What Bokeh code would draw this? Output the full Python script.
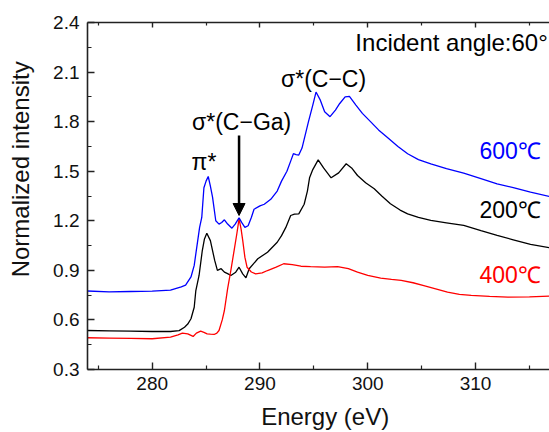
import numpy as np
from bokeh.plotting import figure
from bokeh.models import (LinearAxis, FixedTicker, Label, Arrow, NormalHead, Range1d)
from bokeh.embed import file_html
from bokeh.resources import INLINE

# ---------------- data ----------------
e_600 = [274, 276, 278, 280, 281.7, 282.7, 283.1, 283.6, 283.9, 284.05, 284.4, 284.6, 284.8, 285.0,
         285.2, 285.4, 285.6, 285.9, 286.2, 286.45, 286.7, 287.0, 287.4, 287.7, 288.06, 288.3, 288.6,
         288.9, 289.2, 289.45, 290.0, 290.4, 291.0, 291.6, 292.0, 292.5, 292.9, 293.1, 293.35, 293.6,
         293.9, 294.2, 294.5, 294.9, 295.2, 295.6, 296.0, 296.5, 297.0, 297.4, 297.9, 298.3, 298.9,
         299.5, 300.3, 301.0, 301.8, 302.8, 303.7, 304.7, 305.85, 307.3, 308.9, 310.5, 312.0, 313.5,
         315.1, 317.0]
i_600 = [0.775, 0.770, 0.772, 0.774, 0.78, 0.80, 0.81, 0.86, 0.93, 1.00, 1.16, 1.22, 1.40, 1.44,
         1.468, 1.41, 1.343, 1.20, 1.18, 1.19, 1.206, 1.18, 1.155, 1.18, 1.218, 1.19, 1.16,
         1.17, 1.22, 1.27, 1.29, 1.30, 1.33, 1.38, 1.44, 1.50, 1.57, 1.606, 1.60, 1.598,
         1.64, 1.72, 1.80, 1.90, 1.979, 1.93, 1.86, 1.83, 1.87, 1.91, 1.95, 1.953, 1.90,
         1.85, 1.797, 1.75, 1.706, 1.65, 1.606, 1.57, 1.545, 1.515, 1.488, 1.455, 1.424, 1.40,
         1.373, 1.345]

e_200 = [274, 276, 278, 280, 281.7, 282.5, 283.0, 283.3, 283.6, 283.9, 284.05, 284.35, 284.65, 284.85,
         285.07, 285.4, 285.8, 286.05, 286.4, 286.7, 287.0, 287.3, 287.75, 288.06, 288.4, 288.7,
         289.0, 289.8, 290.7, 291.6, 292.0, 292.4, 292.85, 293.2, 293.6, 294.1, 294.4, 294.6, 294.9,
         295.4, 295.9, 296.6, 297.3, 298.0, 298.5, 299.05, 299.8, 300.6, 301.3, 302.1, 303.0, 303.7,
         304.7, 305.85, 307.3, 308.9, 310.5, 312.0, 313.5, 315.1, 317.0]
i_200 = [0.536, 0.534, 0.532, 0.530, 0.530, 0.535, 0.556, 0.575, 0.607, 0.677, 0.778, 0.869, 1.02, 1.09,
         1.125, 1.08, 0.96, 0.90, 0.91, 0.889, 0.88, 0.869, 0.889, 0.919, 0.879, 0.855,
         0.91, 0.97, 1.01, 1.07, 1.11, 1.16, 1.232, 1.24, 1.242, 1.30, 1.38, 1.46, 1.51,
         1.569, 1.52, 1.46, 1.49, 1.545, 1.52, 1.474, 1.43, 1.394, 1.35, 1.303, 1.265, 1.242,
         1.22, 1.202, 1.188, 1.172, 1.14, 1.111, 1.085, 1.057, 1.035]

e_400 = [274, 276, 278, 280, 281.7, 282.4, 282.8, 283.3, 283.8, 284.1, 284.5, 284.8, 285.1, 285.4,
         285.75, 286.0, 286.2, 286.5, 286.7, 287.0, 287.3, 287.6, 287.85, 288.06, 288.25, 288.4,
         288.6, 288.8, 289.2, 289.6, 290.2, 290.7, 291.5, 292.2, 293.0, 293.8, 294.7, 296.0, 297.2,
         298.2, 299.05, 300.0, 301.2, 302.2, 303.1, 304.2, 305.2, 306.3, 307.4, 308.5, 309.6, 311.3,
         313.0, 315.0, 317.0]
i_400 = [0.492, 0.490, 0.488, 0.486, 0.496, 0.51, 0.52, 0.516, 0.50, 0.52, 0.532, 0.525, 0.516, 0.514,
         0.512, 0.52, 0.536, 0.60, 0.657, 0.79, 0.90, 1.02, 1.12, 1.212, 1.15, 1.081,
         0.98, 0.919, 0.89, 0.879, 0.885, 0.899, 0.92, 0.94, 0.935, 0.925, 0.922, 0.92, 0.923,
         0.91, 0.889, 0.87, 0.853, 0.845, 0.839, 0.825, 0.808, 0.788, 0.768, 0.755, 0.748, 0.742,
         0.738, 0.740, 0.744]

series_names = ["600℃", "200℃", "400℃"]
series_colors = ["#0000ff", "#000000", "#ff0000"]

x_major = [280, 290, 300, 310]
x_minor = [275, 285, 295, 305, 315]
y_major = [0.3, 0.6, 0.9, 1.2, 1.5, 1.8, 2.1, 2.4]
y_minor = [0.45, 0.75, 1.05, 1.35, 1.65, 1.95, 2.25]
y_tick_labels = ["0.3", "0.6", "0.9", "1.2", "1.5", "1.8", "2.1", "2.4"]

x_title = "Energy (eV)"
y_title = "Normalized intensity"

FONT = "Liberation Sans"
NB = "\u00a0"

# ---------------- figure ----------------
p = figure(width=549, height=432, output_backend="svg", toolbar_location=None,
           x_range=Range1d(274, 316.86), y_range=Range1d(0.3, 2.4),
           x_axis_location=None, y_axis_location=None,
           min_border_left=87, min_border_right=0, min_border_top=22, min_border_bottom=63)
p.outline_line_color = None
p.grid.visible = False
p.background_fill_color = "white"
p.border_fill_color = "white"


def style_axis(ax, major_len, minor_len, show_labels=True):
    ax.axis_line_color = "#222222"
    ax.axis_line_width = 1.6
    ax.major_tick_line_color = "#222222"
    ax.minor_tick_line_color = "#222222"
    ax.major_tick_line_width = 1.4
    ax.minor_tick_line_width = 1.2
    ax.major_tick_in = major_len
    ax.major_tick_out = 0
    ax.minor_tick_in = minor_len
    ax.minor_tick_out = 0
    if show_labels:
        ax.major_label_text_font = FONT
        ax.major_label_text_font_size = "19px"
        ax.major_label_text_color = "#111111"
        ax.axis_label_text_font = FONT
        ax.axis_label_text_font_size = "24px"
        ax.axis_label_text_font_style = "normal"
        ax.axis_label_text_color = "#111111"
    else:
        ax.major_label_overrides = {v: "" for v in x_major}
        ax.major_label_text_font_size = "1px"
        ax.major_label_standoff = 0


xb = LinearAxis(ticker=FixedTicker(ticks=x_major, minor_ticks=x_minor))
style_axis(xb, 7, 4)
xb.major_label_standoff = 7
xb.axis_label = NB * 2 + x_title
xb.axis_label_standoff = 10
p.add_layout(xb, "below")

xt = LinearAxis(ticker=FixedTicker(ticks=x_major, minor_ticks=x_minor))
style_axis(xt, 5, 3, show_labels=False)
p.add_layout(xt, "above")

yl = LinearAxis(ticker=FixedTicker(ticks=y_major, minor_ticks=y_minor))
style_axis(yl, 7, 4)
yl.major_label_overrides = {v: s for v, s in zip(y_major, y_tick_labels)}
yl.major_label_standoff = 8
yl.axis_label = NB * 8 + y_title
yl.axis_label_standoff = 16
p.add_layout(yl, "left")

# ---------------- curves ----------------
for e, i, c in [(e_200, i_200, series_colors[1]), (e_400, i_400, series_colors[2]),
                (e_600, i_600, series_colors[0])]:
    p.line(e, i, line_color=c, line_width=1.3)

# ---------------- annotations ----------------
def add_label(x, y, text, color="black", size="23px", align="center"):
    p.add_layout(Label(x=x, y=y, text=text, text_font=FONT, text_font_size=size,
                       text_color=color, text_align=align, text_baseline="middle"))


add_label(316.7, 2.28, "Incident angle:60°", size="24px", align="right")
add_label(316.05, 1.62, series_names[0], color=series_colors[0], align="right")
add_label(316.05, 1.267, series_names[1], color=series_colors[1], align="right")
add_label(316.05, 0.873, series_names[2], color=series_colors[2], align="right")

add_label(284.8, 1.555, "π*")
add_label(288.3, 1.795, "σ*(C−Ga)")
add_label(295.9, 2.06, "σ*(C−C)")

k = int(np.argmax(i_400))
arrow_x = e_400[k]
p.add_layout(Arrow(end=NormalHead(size=12, fill_color="black", line_color="black", line_width=1),
                   x_start=arrow_x, y_start=1.716, x_end=arrow_x, y_end=i_400[k] + 0.02,
                   line_width=2.5, line_color="black"))

open("out.html", "w").write(file_html(p, INLINE))
